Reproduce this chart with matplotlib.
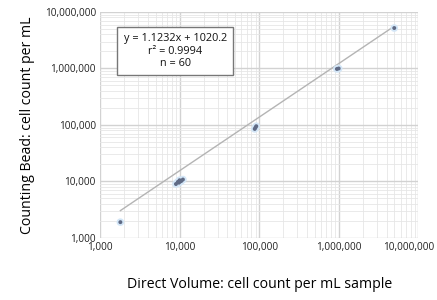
import numpy as np
import matplotlib.pyplot as plt
import matplotlib.transforms as mtransforms
from matplotlib.ticker import FixedLocator, LogLocator, NullFormatter

plt.rcParams['font.family'] = ['Open Sans', 'DejaVu Sans']

# data
direct_volume = [1800, 9000, 9500, 10000, 10500, 11000, 9800, 10200,
                 88000, 92000, 90000, 950000, 1000000, 5000000]
counting_bead = [1900, 9000, 9800, 10500, 10200, 10800, 9500, 10000,
                 85000, 95000, 90000, 980000, 1000000, 5200000]
fit_slope = 1.1232
fit_intercept = 1020.2
fit_x = [1800, 4800000]
tick_values = [1e3, 1e4, 1e5, 1e6, 1e7]
tick_labels = ['1,000', '10,000', '100,000', '1,000,000', '10,000,000']
annot_lines = ['y = 1.1232x + 1020.2', 'r² = 0.9994', 'n = 60']

fig = plt.figure(figsize=(4.37, 3.0), dpi=100)
ax = fig.add_axes([0.229, 0.207, 0.728, 0.753])

ax.set_xscale('log')
ax.set_yscale('log')
ax.set_xlim(1e3, 1e7)
ax.set_ylim(1e3, 1e7)

ax.xaxis.set_major_locator(FixedLocator(tick_values))
ax.yaxis.set_major_locator(FixedLocator(tick_values))
ax.set_xticklabels(tick_labels)
ax.set_yticklabels(tick_labels)
ax.xaxis.set_minor_locator(LogLocator(base=10, subs=np.arange(2, 10)))
ax.yaxis.set_minor_locator(LogLocator(base=10, subs=np.arange(2, 10)))
ax.xaxis.set_minor_formatter(NullFormatter())
ax.yaxis.set_minor_formatter(NullFormatter())
ax.tick_params(which='both', length=0, labelsize=7.2, colors='#222222', pad=3)

# last x label sits at the right edge, push it in so it stays inside the figure
last = ax.get_xticklabels()[-1]
last.set_horizontalalignment('right')
last.set_transform(last.get_transform() +
                   mtransforms.ScaledTranslation(16 / 100, 0, fig.dpi_scale_trans))

ax.grid(which='minor', color='#e6e6e6', lw=0.6)
ax.grid(which='major', color='#d2d2d2', lw=1.0)
ax.set_axisbelow(True)
for s in ax.spines.values():
    s.set_visible(False)

# regression line
fx = np.array(fit_x, dtype=float)
ax.plot(fx, fit_slope * fx + fit_intercept, color='#b4b4b4', lw=1.0, zorder=2)

# points (with soft halo)
ax.scatter(direct_volume, counting_bead, s=30, color='#d3e6f7', edgecolors='none', zorder=3)
ax.scatter(direct_volume, counting_bead, s=8, color='#5f6a84', edgecolors='none', zorder=4)

ax.text(0.236, 0.905, '\n'.join(annot_lines), transform=ax.transAxes,
        ha='center', va='top', fontsize=7.8, linespacing=1.15, color='#111111',
        bbox=dict(boxstyle='square,pad=0.6', fc='white', ec='#777777', lw=1.0),
        zorder=5)

ax.set_xlabel('Direct Volume: cell count per mL sample', fontsize=10.2, labelpad=17)
ax.set_ylabel('Counting Bead: cell count per mL', fontsize=10.2, labelpad=7)

fig.savefig('out.png', dpi=100)
